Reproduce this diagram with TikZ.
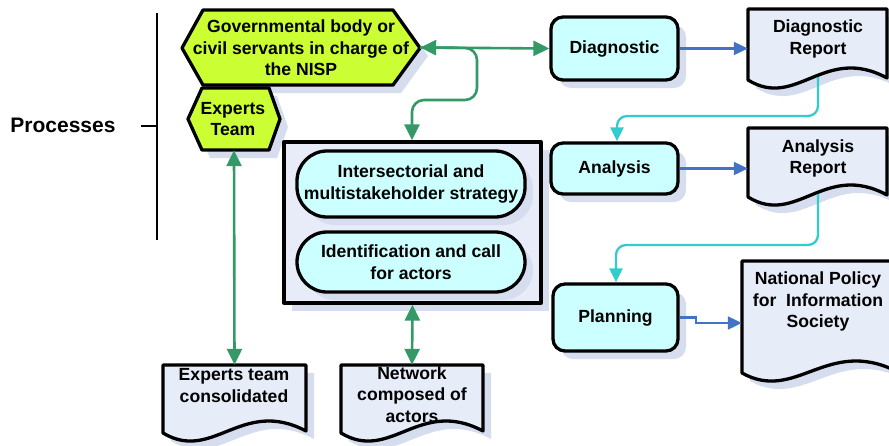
\documentclass[tikz,border=0pt]{standalone}
\usepackage{fontspec}
\setmainfont{Liberation Sans}
\usetikzlibrary{arrows.meta,shadows}

\definecolor{limefill}{HTML}{CCFF33}
\definecolor{procfill}{HTML}{CCFFFF}
\definecolor{docfill}{HTML}{E6ECF8}
\definecolor{groupfill}{HTML}{E8ECF8}
\definecolor{shadowc}{HTML}{D5DDEF}
\definecolor{linkgreen}{HTML}{339966}
\definecolor{linkblue}{HTML}{4472C4}
\definecolor{linkcyan}{HTML}{33CCCC}

% document outline with a wavy bottom: x1, top y, x2, left end of the wave
\newcommand{\docoutline}[4]{(#1,#2) -- (#3,#2) -- (#3,{#4-2})
  .. controls ({#1+0.55*(#3-#1)},{#4-36}) and ({#1+0.35*(#3-#1)},{#4+30}) .. (#1,#4) -- cycle}

\begin{document}
\begin{tikzpicture}[x=1pt,y=-1pt,
  lbl/.style={font=\fontsize{17.6}{21.5}\selectfont\bfseries, align=center, inner sep=0pt},
  outline/.style={draw=black, line width=3.3pt, line join=round},
  shadowed/.style={drop shadow={shadow xshift=8pt, shadow yshift=-8pt, fill=shadowc, opacity=1}},
  procbox/.style={lbl, outline, fill=procfill, rounded corners=12pt, shadowed},
  pill/.style={lbl, outline, fill=procfill, rounded corners=30pt, shadowed},
  anchorbox/.style={draw=none, inner sep=0pt},
  glink/.style={draw=linkgreen, line width=2.6pt, rounded corners=12pt},
  gtips/.style={{Triangle[length=16pt,width=15pt]}-{Triangle[length=16pt,width=15pt]}},
  gtip/.style={-{Triangle[length=16pt,width=15pt]}},
  btip/.style={-{Triangle[length=14pt,width=13pt]}},
  blink/.style={draw=linkblue, line width=2.2pt},
  clink/.style={draw=linkcyan, line width=2.3pt, rounded corners=10pt},
]
\useasboundingbox (0,0) rectangle (889,445);

% side label and bracket
\node[font=\fontsize{21}{24}\selectfont\bfseries, inner sep=0pt] (proc) at (63,125) {Processes};
\coordinate (brtop) at (157,13);
\coordinate (brbot) at (157,240);
\coordinate (brmid) at (157,126);
\coordinate (brtick) at (141,126);
\draw[line width=1.1pt] (brtop) -- (brbot);
\draw[line width=1.1pt] (brtick) -- (brmid);

% hexagons
\fill[shadowc, shift={(8,8)}] (182,48) -- (203,10) -- (393,10) -- (420,48) -- (393,85) -- (203,85) -- cycle;
\draw[outline, fill=limefill] (182,48) -- (203,10) -- (393,10) -- (420,48) -- (393,85) -- (203,85) -- cycle;
\node[anchorbox, minimum width=238, minimum height=75] (gov) at (301,47.5) {};
\node[lbl] (govtext) at (301,48) {Governmental body or\\civil servants in charge of\\the NISP};

\fill[shadowc, shift={(8,8)}] (188,119) -- (202,88) -- (269,88) -- (280,119) -- (269,150) -- (202,150) -- cycle;
\draw[outline, fill=limefill] (188,119) -- (202,88) -- (269,88) -- (280,119) -- (269,150) -- (202,150) -- cycle;
\node[anchorbox, minimum width=92, minimum height=62] (exp) at (234,119) {};
\node[lbl] (exptext) at (233,119) {Experts\\Team};

% process boxes
\node[procbox, minimum width=127, minimum height=63] (diag) at (614.5,48.5) {Diagnostic};
\node[procbox, minimum width=127, minimum height=51] (anal) at (614.5,168.5) {Analysis};
\node[procbox, minimum width=125, minimum height=67] (plan) at (615.5,317.5) {Planning};

% grouping box with its two strategy steps
\node[outline, fill=groupfill, minimum width=257, minimum height=161, shadowed] (group) at (412.5,222.5) {};
\node[pill, minimum width=228, minimum height=66] (inter) at (411,184) {Intersectorial and\\multistakeholder strategy};
\node[pill, minimum width=228, minimum height=60] (ident) at (411,262) {Identification and call\\for actors};

% documents
\fill[shadowc, shift={(8,8)}] \docoutline{748}{9}{887}{80};
\draw[outline, fill=docfill] \docoutline{748}{9}{887}{80};
\node[anchorbox, minimum width=139, minimum height=71] (drep) at (817.5,44.5) {};
\node[lbl] (dreptext) at (818,39) {Diagnostic\\Report};

\fill[shadowc, shift={(8,8)}] \docoutline{748}{128}{887}{197};
\draw[outline, fill=docfill] \docoutline{748}{128}{887}{197};
\node[anchorbox, minimum width=139, minimum height=69] (arep) at (817.5,162.5) {};
\node[lbl] (areptext) at (818,158.5) {Analysis\\Report};

\fill[shadowc, shift={(8,8)}] \docoutline{742}{261}{896}{373};
\draw[outline, fill=docfill] \docoutline{742}{261}{896}{373};
\node[anchorbox, minimum width=154, minimum height=112] (nisp) at (819,317) {};
\node[lbl] (nisptext) at (818,301.5) {National Policy\\for\ \ Information\\Society};

\fill[shadowc, shift={(8,8)}] \docoutline{163}{365}{306}{433};
\draw[outline, fill=docfill] \docoutline{163}{365}{306}{433};
\node[anchorbox, minimum width=143, minimum height=68] (expc) at (234.5,399) {};
\node[lbl] (expctext) at (234,385.5) {Experts team\\consolidated};

\fill[shadowc, shift={(8,8)}] \docoutline{341}{365}{483}{433};
\draw[outline, fill=docfill] \docoutline{341}{365}{483}{433};
\node[anchorbox, minimum width=142, minimum height=68] (netw) at (412,399) {};
\node[lbl] (netwtext) at (412,394.5) {Network\\composed of\\actors};

% green links
\draw[glink, gtips] (gov.east) -- (diag.west);
\draw[glink, gtip] (gov.east) -- (477,48) -- (477,100) -- (412,100) -- (group.north -| 412,0);
\draw[glink, rounded corners=0pt, gtips] (exp.south) -- (expc.north);
\draw[glink, rounded corners=0pt, gtips] (group.south) -- (netw.north);

% blue links
\draw[blink, btip] (diag.east) -- (diag.east -| drep.west);
\draw[blink, btip] (anal.east) -- (anal.east -| arep.west);
\draw[blink, btip] (plan.east) -- (696,317.5) -- (696,323) -- (nisp.west |- 0,323);

% cyan links from the reports
\coordinate (dwave) at (818,77);
\coordinate (awave) at (818,194);
\draw[clink, btip] (dwave) -- (818,116) -- (617,116) -- (anal.north -| 617,0);
\draw[clink, btip] (awave) -- (818,245) -- (616,245) -- (plan.north -| 616,0);
\end{tikzpicture}
\end{document}
